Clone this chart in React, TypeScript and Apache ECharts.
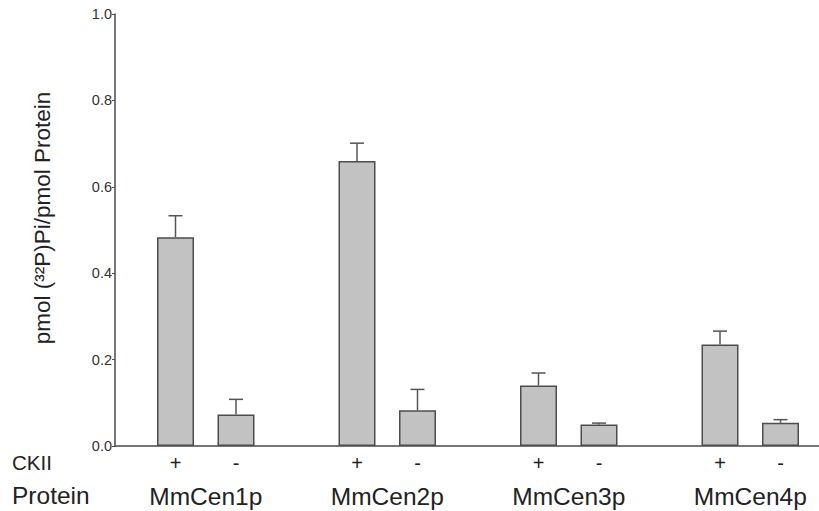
import React, { useEffect, useRef } from "react";
import * as echarts from "echarts";

const proteins = ["MmCen1p", "MmCen2p", "MmCen3p", "MmCen4p"];
const ckLabels = ["+", "-"];
const ckPlus = [0.483, 0.66, 0.14, 0.235];
const ckPlusErr = [0.05, 0.041, 0.029, 0.031];
const ckMinus = [0.073, 0.083, 0.05, 0.054];
const ckMinusErr = [0.035, 0.048, 0.003, 0.007];
const yTicks = [0, 0.2, 0.4, 0.6, 0.8, 1.0];

const FONT = "'Liberation Sans', Arial, Helvetica, sans-serif";

export default function App() {
  const ref = useRef<HTMLDivElement>(null);
  useEffect(() => {
    if (!ref.current) return;
    const chart = echarts.init(ref.current, null, { renderer: "svg" });

    // slot positions: 0 blank, then (+, -, blank) per protein
    const slotLabel: Record<number, string> = {};
    const protLabel: Record<string, string> = {};
    const bars: number[][] = [];
    const errs: number[][] = [];
    proteins.forEach((p, i) => {
      const xp = 1 + i * 3;
      const xm = xp + 1;
      slotLabel[xp] = ckLabels[0];
      slotLabel[xm] = ckLabels[1];
      protLabel[(xp + 0.5).toFixed(1)] = p;
      bars.push([xp, ckPlus[i]]);
      bars.push([xm, ckMinus[i]]);
      errs.push([xp, ckPlus[i], ckPlus[i] + ckPlusErr[i]]);
      errs.push([xm, ckMinus[i], ckMinus[i] + ckMinusErr[i]]);
    });

    const gridLeft = 115;
    const gridWidth = 819 - gridLeft;
    const slot = 60.5;
    const xMax = gridWidth / slot;

    chart.setOption({
      animation: false,
      backgroundColor: "#ffffff",
      grid: { left: gridLeft, top: 14, width: gridWidth, height: 432, containLabel: false },
      xAxis: [
        {
          type: "value",
          min: 0,
          max: xMax,
          interval: 1,
          axisLine: { show: true, onZero: false, lineStyle: { color: "#4a4a4a", width: 1.5 } },
          axisTick: { show: false },
          axisLabel: {
            showMinLabel: false,
            showMaxLabel: false,
            margin: 7,
            color: "#222",
            fontSize: 20,
            fontFamily: FONT,
            formatter: (v: number) => slotLabel[Math.round(v)] ?? "",
          },
          splitLine: { show: false },
        },
        {
          type: "value",
          min: 0,
          max: xMax,
          interval: 0.5,
          position: "bottom",
          axisLine: { show: false },
          axisTick: { show: false },
          axisLabel: {
            showMinLabel: false,
            showMaxLabel: false,
            margin: 38,
            color: "#222",
            fontSize: 24.5,
            fontFamily: FONT,
            formatter: (v: number) => protLabel[v.toFixed(1)] ?? "",
          },
          splitLine: { show: false },
        },
      ],
      yAxis: {
        type: "value",
        min: 0,
        max: 1.0,
        interval: 0.2,
        axisLine: { show: true, lineStyle: { color: "#4a4a4a", width: 1.5 } },
        axisTick: { show: true, length: 3, lineStyle: { color: "#4a4a4a" } },
        axisLabel: {
          margin: 3,
          color: "#333",
          fontSize: 14.5,
          fontFamily: FONT,
          formatter: (v: number) => (yTicks.some((t) => Math.abs(t - v) < 1e-9) ? v.toFixed(1) : ""),
        },
        splitLine: { show: false },
      },
      graphic: [
        {
          type: "text",
          left: 12,
          top: 452,
          style: { text: "CKII", fontSize: 20.5, fontFamily: FONT, fill: "#222" },
        },
        {
          type: "text",
          left: 12,
          top: 483,
          style: { text: "Protein", fontSize: 24.5, fontFamily: FONT, fill: "#222" },
        },
        {
          type: "text",
          x: 42,
          y: 218,
          rotation: Math.PI / 2,
          style: {
            text: "pmol (³²P)Pi/pmol Protein",
            fontSize: 22.5,
            fontFamily: FONT,
            fill: "#222",
            align: "center",
            verticalAlign: "middle",
          },
        },
      ],
      series: [
        {
          type: "bar",
          data: bars,
          barWidth: 37,
          itemStyle: { color: "#c2c2c2", borderColor: "#4d4d4d", borderWidth: 1.5 },
          z: 2,
        },
        {
          type: "custom",
          data: errs,
          z: 3,
          renderItem: (params: any, api: any) => {
            const x = api.value(0);
            const p0 = api.coord([x, api.value(1)]);
            const p1 = api.coord([x, api.value(2)]);
            const half = 7;
            const style = { stroke: "#555", lineWidth: 1.5 };
            return {
              type: "group",
              children: [
                { type: "line", shape: { x1: p0[0], y1: p0[1], x2: p1[0], y2: p1[1] }, style },
                { type: "line", shape: { x1: p1[0] - half, y1: p1[1], x2: p1[0] + half, y2: p1[1] }, style },
              ],
            };
          },
        },
      ],
    });
    return () => chart.dispose();
  }, []);
  return (
    <div
      ref={ref}
      style={{ position: "fixed", left: 0, top: 0, width: 819, height: 511, background: "#fff" }}
    />
  );
}
